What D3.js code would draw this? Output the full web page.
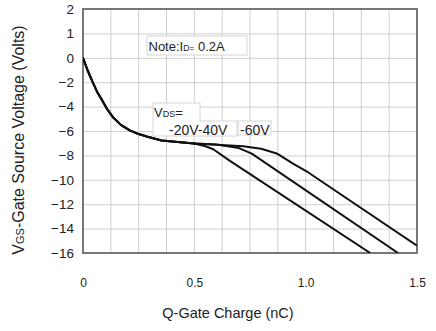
<!DOCTYPE html>
<html>
<head>
<meta charset="utf-8">
<script src="https://cdn.jsdelivr.net/npm/d3@7"></script>
<style>
  html, body { margin: 0; padding: 0; background: #fff; }
  svg { display: block; font-family: "Liberation Sans", Arial, sans-serif; }
</style>
</head>
<body>
<svg id="chart" width="436" height="331"></svg>
<script>
// gate charge curves, one per VDS
const sharedQ = [0, 0.02, 0.046, 0.065, 0.085, 0.11, 0.136, 0.17, 0.21, 0.25, 0.286, 0.353, 0.45, 0.5];
const sharedV = [0, -1.0, -2.1, -2.85, -3.45, -4.25, -4.9, -5.5, -5.95, -6.25, -6.45, -6.78, -6.95, -7.02];

const q20 = [0.55, 0.585, 0.66, 1.29];
const v20 = [-7.25, -7.5, -8.45, -16];
const q40 = [0.6, 0.7, 0.758, 1.415];
const v40 = [-7.1, -7.4, -7.86, -16];
const q60 = [0.6, 0.72, 0.8, 0.87, 0.945, 1.012, 1.5];
const v60 = [-7.12, -7.25, -7.45, -7.84, -8.7, -9.4, -15.4];

const yTicks = [2, 1, 0, -2, -4, -6, -8, -10, -12, -14, -16];
const xTicks = [0, 0.5, 1.0, 1.5];
const xTickLabels = ["0", "0.5", "1.0", "1.5"];

const svg = d3.select("#chart");
const mLeft = 83, mRight = 417, mTop = 9, mBottom = 253;

const x = d3.scaleLinear().domain([0, 1.5]).range([mLeft, mRight]);
// axis is stepped 1V above zero and 2V below, same spacing
const y = d3.scaleLinear().domain([-16, 0, 2]).range([mBottom, mTop + 48.8, mTop]);

svg.append("defs").append("clipPath").attr("id", "plot")
  .append("rect").attr("x", mLeft).attr("y", mTop)
  .attr("width", mRight - mLeft).attr("height", mBottom - mTop);

// vertical grid every 0.125 nC
svg.append("g").selectAll("line")
  .data(d3.range(0, 1.5001, 0.125))
  .join("line")
  .attr("x1", d => x(d)).attr("x2", d => x(d))
  .attr("y1", mTop).attr("y2", mBottom)
  .attr("stroke", "#cfcfcf").attr("stroke-width", 1);

// y axis with horizontal grid
const yAxis = svg.append("g")
  .attr("transform", `translate(${mLeft},0)`)
  .call(d3.axisLeft(y).tickValues(yTicks).tickSize(-(mRight - mLeft)).tickPadding(9));
yAxis.select(".domain").remove();
yAxis.selectAll(".tick line").attr("stroke", "#cfcfcf");
yAxis.selectAll(".tick text")
  .attr("fill", "#222").style("font-size", "13.5px")
  .style("font-family", "'Liberation Sans', Arial, sans-serif");

// x tick labels sit well below the frame
const xAxis = svg.append("g")
  .attr("transform", `translate(0,${mBottom})`)
  .call(d3.axisBottom(x).tickValues(xTicks).tickSize(0).tickPadding(25)
    .tickFormat((d, i) => xTickLabels[i]));
xAxis.select(".domain").remove();
xAxis.selectAll(".tick text")
  .attr("fill", "#222").style("font-size", "12px")
  .style("font-family", "'Liberation Sans', Arial, sans-serif");

// frame
svg.append("rect")
  .attr("x", mLeft).attr("y", mTop)
  .attr("width", mRight - mLeft).attr("height", mBottom - mTop)
  .attr("fill", "none").attr("stroke", "#777").attr("stroke-width", 2);

// curves
const line = d3.line().x(d => x(d[0])).y(d => y(d[1]));
const series = [[q20, v20], [q40, v40], [q60, v60]];
svg.append("g").attr("clip-path", "url(#plot)")
  .selectAll("path")
  .data(series.map(([qs, vs]) =>
    sharedQ.concat(qs).map((q, i) => [q, sharedV.concat(vs)[i]])))
  .join("path")
  .attr("d", line)
  .attr("fill", "none").attr("stroke", "#111").attr("stroke-width", 2)
  .attr("stroke-linejoin", "round");

// annotation boxes
const note = svg.append("g");
note.append("rect").attr("x", 147).attr("y", 36).attr("width", 100).attr("height", 19)
  .attr("fill", "#fff").attr("stroke", "#d4d4d4");
const nt = note.append("text").attr("x", 148.5).attr("y", 51)
  .attr("fill", "#222").style("font-size", "13px");
nt.append("tspan").text("Note:I");
nt.append("tspan").style("font-size", "8.5px").text("D=");
nt.append("tspan").text(" 0.2A");

svg.append("path")
  .attr("d", "M153,103H200V121H237V136H153Z")
  .attr("fill", "#fff").attr("stroke", "#d4d4d4");
svg.append("rect").attr("x", 238).attr("y", 121).attr("width", 33).attr("height", 14)
  .attr("fill", "#fff").attr("stroke", "#d4d4d4");

const vds = svg.append("text").attr("x", 154).attr("y", 117)
  .attr("fill", "#222").style("font-size", "13px");
vds.append("tspan").text("V");
vds.append("tspan").style("font-size", "9px").text("DS");
vds.append("tspan").text("=");

svg.append("text").attr("x", 169).attr("y", 134.5)
  .attr("fill", "#222").style("font-size", "14px").text("-20V-40V");
svg.append("text").attr("x", 240).attr("y", 134.5)
  .attr("fill", "#222").style("font-size", "14px").text("-60V");

// axis titles
svg.append("text")
  .attr("x", 228).attr("y", 318).attr("text-anchor", "middle")
  .attr("fill", "#222").style("font-size", "14.5px")
  .text("Q-Gate Charge (nC)");

const yt = svg.append("text")
  .attr("transform", "translate(24,140) rotate(-90)")
  .attr("text-anchor", "middle")
  .attr("fill", "#222").style("font-size", "16px");
yt.append("tspan").text("V");
yt.append("tspan").style("font-size", "11px").text("GS");
yt.append("tspan").text("-Gate Source Voltage (Volts)");
</script>
</body>
</html>
